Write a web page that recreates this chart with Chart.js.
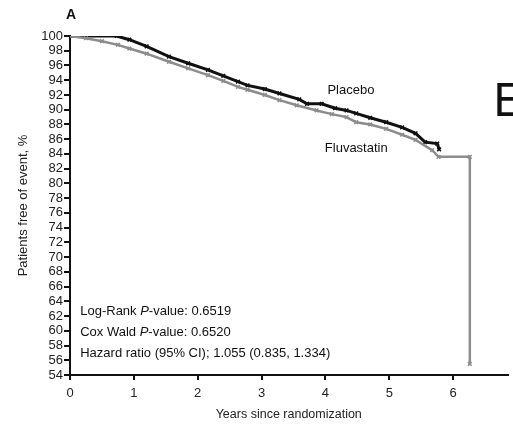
<!DOCTYPE html>
<html>
<head>
<meta charset="utf-8">
<script src="https://cdn.jsdelivr.net/npm/chart.js@4"></script>
<style>
  html, body { margin: 0; padding: 0; background: #fff; }
  #wrap { width: 513px; height: 430px; }
</style>
</head>
<body>
<div id="wrap"><canvas id="km"></canvas></div>
<script>
const FONT = "'Liberation Sans Narrow', 'Liberation Sans', Arial, sans-serif";

// Kaplan-Meier curves (years, % free of event)
const placeboYears = [0, 0.73, 0.93, 1.2, 1.55, 1.85, 2.16, 2.4, 2.63, 2.78, 3.05, 3.28, 3.59, 3.71, 3.94, 4.15, 4.33, 4.48, 4.7, 4.95, 5.2, 5.41, 5.56, 5.75, 5.78];
const placeboValues = [100, 100, 99.5, 98.6, 97.2, 96.3, 95.4, 94.6, 93.8, 93.3, 92.8, 92.2, 91.4, 90.8, 90.8, 90.2, 89.9, 89.5, 88.9, 88.3, 87.6, 86.8, 85.6, 85.4, 84.6];

const fluvaYears = [0, 0.25, 0.5, 0.75, 0.93, 1.2, 1.55, 1.85, 2.16, 2.4, 2.63, 2.78, 3.05, 3.28, 3.55, 3.86, 4.1, 4.33, 4.48, 4.7, 4.95, 5.2, 5.41, 5.67, 5.77, 6.26, 6.26];
const fluvaValues = [100, 99.7, 99.3, 98.8, 98.3, 97.6, 96.5, 95.6, 94.7, 93.9, 93.1, 92.7, 92.0, 91.3, 90.6, 89.9, 89.4, 89.0, 88.3, 88.0, 87.4, 86.6, 85.9, 84.5, 83.6, 83.6, 55.5];

const xTicks = [0, 1, 2, 3, 4, 5, 6];
const yMin = 54, yMax = 100, xMax = 6.85;

const statLines = [
  ["Log-Rank ", "P", "-value: 0.6519"],
  ["Cox Wald ", "P", "-value: 0.6520"],
  ["Hazard ratio (95% CI); 1.055 (0.835, 1.334)", "", ""]
];

const toPoints = (xs, ys) => xs.map((x, i) => ({ x: x, y: ys[i] }));

const annotations = {
  id: "annotations",
  afterDraw(chart) {
    const ctx = chart.ctx;
    const xs = chart.scales.x, ys = chart.scales.y;
    ctx.save();
    ctx.fillStyle = "#111";
    ctx.textBaseline = "middle";
    ctx.textAlign = "left";

    ctx.font = "bold 14px " + FONT;
    ctx.fillText("A", xs.left - 4, 15);

    ctx.font = "13px " + FONT;
    ctx.fillText("Placebo", xs.getPixelForValue(4.03), ys.getPixelForValue(92.6));
    ctx.fillText("Fluvastatin", xs.getPixelForValue(3.99), ys.getPixelForValue(84.8));

    statLines.forEach((parts, i) => {
      let x = xs.getPixelForValue(0.16);
      const y = ys.getPixelForValue(62.6 - i * 2.85);
      ctx.font = "13px " + FONT;
      ctx.fillText(parts[0], x, y);
      x += ctx.measureText(parts[0]).width;
      ctx.font = "italic 13px " + FONT;
      ctx.fillText(parts[1], x, y);
      x += ctx.measureText(parts[1]).width;
      ctx.font = "13px " + FONT;
      ctx.fillText(parts[2], x, y);
    });

    ctx.font = "44px 'DejaVu Sans', sans-serif";
    ctx.fillText("E", 493, 105);
    ctx.restore();
  }
};

new Chart(document.getElementById("km"), {
  type: "scatter",
  data: {
    datasets: [
      {
        label: "Fluvastatin",
        data: toPoints(fluvaYears, fluvaValues),
        showLine: true,
        borderColor: "#8c8c8c",
        backgroundColor: "#8c8c8c",
        borderWidth: 2.5,
        pointRadius: 2.6,
        pointStyle: "crossRot",
        pointBorderWidth: 1.5,
        tension: 0
      },
      {
        label: "Placebo",
        data: toPoints(placeboYears, placeboValues),
        showLine: true,
        borderColor: "#111",
        backgroundColor: "#111",
        borderWidth: 3,
        pointRadius: 2.6,
        pointStyle: "crossRot",
        pointBorderWidth: 1.5,
        tension: 0
      }
    ]
  },
  options: {
    responsive: true,
    maintainAspectRatio: false,
    animation: false,
    layout: { padding: { top: 36, right: 0, left: 16, bottom: 0 } },
    plugins: {
      legend: { display: false },
      tooltip: { enabled: false }
    },
    scales: {
      x: {
        type: "linear",
        min: 0,
        max: xMax,
        afterBuildTicks: (scale) => { scale.ticks = xTicks.map(v => ({ value: v })); },
        afterFit: (scale) => { scale.height = 55; },
        grid: { display: true, drawOnChartArea: false, drawTicks: true, tickLength: 5, color: "#111", lineWidth: 2 },
        border: { display: true, color: "#111", width: 2 },
        ticks: { color: "#222", font: { family: FONT, size: 13 }, padding: 6, maxRotation: 0 },
        title: { display: true, text: "Years since randomization", color: "#222", font: { family: FONT, size: 12.5 }, padding: { top: 4, bottom: 8 } }
      },
      y: {
        min: yMin,
        max: yMax,
        afterFit: (scale) => { scale.width = 54; },
        grid: { display: true, drawOnChartArea: false, drawTicks: true, tickLength: 6, color: "#111", lineWidth: 2 },
        border: { display: true, color: "#111", width: 2 },
        ticks: { stepSize: 2, autoSkip: false, color: "#222", font: { family: FONT, size: 13 }, padding: 1 },
        title: { display: true, text: "Patients free of event, %", color: "#222", font: { family: FONT, size: 13 }, padding: { top: 0, bottom: 4 } }
      }
    }
  },
  plugins: [annotations]
});
</script>
</body>
</html>
